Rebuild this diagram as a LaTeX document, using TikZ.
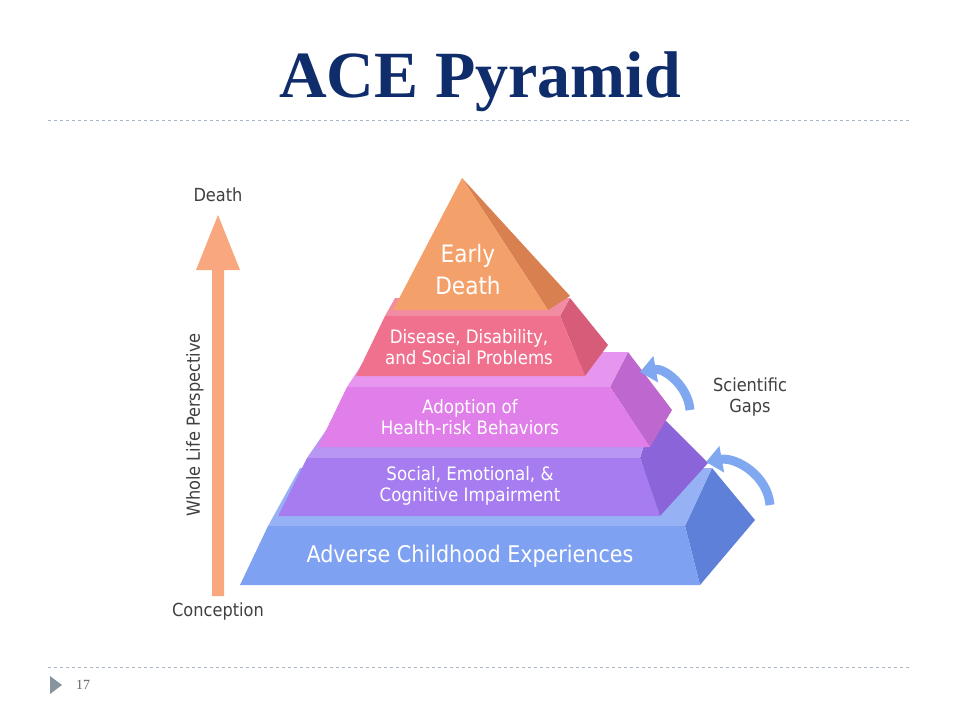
\documentclass[tikz,border=0pt]{standalone}
\usepackage{fontspec}
\setmainfont{Liberation Serif}
\newfontfamily\labelfont{DejaVu Sans Condensed}
\usetikzlibrary{arrows.meta}
\definecolor{navy}{HTML}{0F2C6B}
\definecolor{rulegray}{HTML}{A9B8C4}
\definecolor{arroworange}{HTML}{F9A77E}
\definecolor{gapblue}{HTML}{80A8F0}
\definecolor{aceside}{HTML}{5E80D8}
\definecolor{acetop}{HTML}{96B2F4}
\definecolor{acefront}{HTML}{7FA1F2}
\definecolor{socside}{HTML}{8A64D8}
\definecolor{soctop}{HTML}{B896F4}
\definecolor{socfront}{HTML}{A67CF0}
\definecolor{adoside}{HTML}{BE68CF}
\definecolor{adotop}{HTML}{E696EE}
\definecolor{adofront}{HTML}{E07EEA}
\definecolor{disside}{HTML}{D65C7A}
\definecolor{distop}{HTML}{F28CA3}
\definecolor{disfront}{HTML}{F0718E}
\definecolor{deathside}{HTML}{D8804F}
\definecolor{deathfront}{HTML}{F4A06A}
\begin{document}
\begin{tikzpicture}
[x=1pt, y=1pt, every node/.style={inner sep=0pt},
 lbl/.style={font=\labelfont\fontsize{18.5}{21}\selectfont, text=white, align=center},
 side/.style={font=\labelfont\fontsize{18}{21}\selectfont, text=black!75, align=center},
 gap/.style={line width=9pt, color=gapblue, -{Triangle[length=16pt, width=26pt]}}]
\useasboundingbox (0,0) rectangle (960,-720);
\fill[white] (0,0) rectangle (960,-720);
\node (title) [font=\bfseries\fontsize{66}{68}\selectfont, text=navy] at (480pt, -82pt) {ACE Pyramid};
\draw [rulegray, dashed, line width=0.8pt] (48,-120) -- (912,-120);
\draw [rulegray, dashed, line width=0.8pt] (48,-667) -- (912,-667);
\fill [rulegray!80!black] (50,-676) -- (62,-685) -- (50,-694) -- cycle;
\node (page) [font=\fontsize{14}{16}\selectfont, text=black!60, anchor=west] at (76pt, -685pt) {17};
% layer 5
\fill [aceside] (685,-526) -- (700,-585) -- (755,-520) -- (712,-468) -- cycle;
\fill [acetop] (268,-526) -- (685,-526) -- (712,-468) -- (300,-468) -- cycle;
\fill [acefront] (268,-526) -- (685,-526) -- (700,-585) -- (240,-585) -- cycle;
% layer 4
\fill [socside] (640,-458) -- (660,-516) -- (708,-463) -- (655,-410) -- cycle;
\fill [soctop] (307,-458) -- (640,-458) -- (655,-410) -- (340,-410) -- cycle;
\fill [socfront] (307,-458) -- (640,-458) -- (660,-516) -- (278,-516) -- cycle;
% layer 3
\fill [adoside] (610,-387) -- (650,-447) -- (672,-410) -- (628,-352) -- cycle;
\fill [adotop] (347,-387) -- (610,-387) -- (628,-352) -- (370,-352) -- cycle;
\fill [adofront] (347,-387) -- (610,-387) -- (650,-447) -- (318,-447) -- cycle;
% layer 2
\fill [disside] (560,-316) -- (585,-376) -- (608,-345) -- (570,-298) -- cycle;
\fill [distop] (385,-316) -- (560,-316) -- (570,-298) -- (395,-298) -- cycle;
\fill [disfront] (385,-316) -- (560,-316) -- (585,-376) -- (356,-376) -- cycle;
% top
\fill [deathside] (462,-178) -- (548,-310) -- (570,-296) -- cycle;
\fill [deathfront] (462,-178) -- (548,-310) -- (393,-310) -- cycle;
\node (death) [lbl, font=\labelfont\fontsize{24}{32}\selectfont] at (468pt, -270pt) {Early\\Death};
\node (disease) [lbl] at (469pt, -347pt) {Disease, Disability,\\and Social Problems};
\node (adopt) [lbl] at (470pt, -417pt) {Adoption of\\Health-risk Behaviors};
\node (social) [lbl] at (470pt, -486pt) {Social, Emotional, \&\\Cognitive Impairment};
\node (ace) [lbl, font=\labelfont\fontsize{23}{26}\selectfont] at (470pt, -556pt) {Adverse Childhood Experiences};
% life arrow
\fill [arroworange] (212,-596) -- (224,-596) -- (224,-270) -- (240,-270) -- (218,-215) -- (196,-270) -- (212,-270) -- cycle;
\node (top) [side] at (218pt, -195pt) {Death};
\node (bottom) [side] at (218pt, -612pt) {Conception};
\node (life) [side] [rotate=90] at (195pt, -425pt) {Whole Life Perspective};
\node (gaps) [side] at (750pt, -397pt) {Scientific\\Gaps};
\coordinate (g1) at (690pt, -410pt);
\coordinate (g1e) at (640pt, -372pt);
\coordinate (g2) at (770pt, -505pt);
\coordinate (g2e) at (706pt, -462pt);
\draw [gap] (g1) to [out=95, in=10] (g1e);
\draw [gap] (g2) to [out=95, in=10] (g2e);
\end{tikzpicture}
\end{document}
